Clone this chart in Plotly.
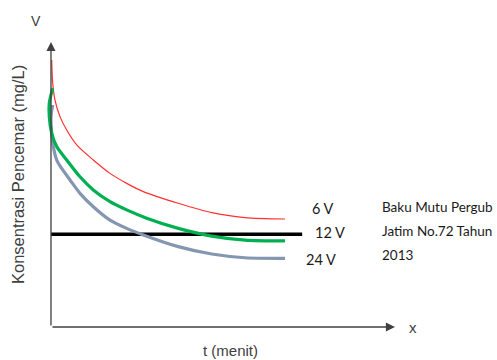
import plotly.graph_objects as go

# t (menit) and Konsentrasi values
t_6v = [0.018, 0.044, 0.103, 0.231, 0.403, 0.659, 1.085, 1.513, 1.941, 2.367, 3.264, 4.121, 4.974, 6.0]
c_6v = [9.37, 8.56, 7.96, 7.38, 6.91, 6.39, 5.86, 5.39, 5.04, 4.75, 4.34, 4.01, 3.84, 3.79]

t_12v = [0.044, -0.044, -0.044, 0.018, 0.146, 0.403, 0.744, 1.085, 1.513, 1.941, 2.454, 3.264, 4.121, 4.974, 6.0]
c_12v = [8.38, 7.85, 7.38, 6.80, 6.33, 5.86, 5.27, 4.81, 4.40, 4.11, 3.82, 3.46, 3.19, 3.05, 3.02]

t_24v = [0.044, 0.0, 0.018, 0.059, 0.146, 0.231, 0.487, 0.744, 1.085, 1.513, 1.941, 2.367, 3.264, 4.121, 4.974, 6.0]
c_24v = [7.79, 7.38, 6.80, 6.33, 5.86, 5.65, 5.16, 4.69, 4.22, 3.75, 3.46, 3.23, 2.82, 2.56, 2.43, 2.41]

t_baku = [0.0, 6.44]
c_baku = [3.25, 3.25]

series_labels = ["6 V", "12 V", "24 V"]
baku_lines = ["Baku Mutu Pergub", "Jatim No.72 Tahun", "2013"]

fig = go.Figure()
fig.add_trace(go.Scatter(x=t_baku, y=c_baku, mode="lines",
                         line=dict(color="#000000", width=3.5)))
fig.add_trace(go.Scatter(x=t_6v, y=c_6v, mode="lines", line_shape="spline",
                         line=dict(color="#FF3030", width=1.2, smoothing=0.8)))
fig.add_trace(go.Scatter(x=t_24v, y=c_24v, mode="lines", line_shape="spline",
                         line=dict(color="#8496B0", width=3.2, smoothing=0.8)))
fig.add_trace(go.Scatter(x=t_12v, y=c_12v, mode="lines", line_shape="spline",
                         line=dict(color="#00B050", width=3.2, smoothing=0.8)))

ann = []
# axes with arrows
ann.append(dict(x=0, y=10, ax=0, ay=0, xref="x", yref="y", axref="x", ayref="y",
                text="", showarrow=True, arrowhead=2, arrowsize=1.4, arrowwidth=1.3,
                arrowcolor="#404040"))
ann.append(dict(x=8.82, y=0, ax=0, ay=0, xref="x", yref="y", axref="x", ayref="y",
                text="", showarrow=True, arrowhead=2, arrowsize=1.4, arrowwidth=1.3,
                arrowcolor="#404040"))

def txt(px, py, s, size=13, family="Liberation Sans, Arial", color="#404040",
        xanchor="left", angle=0):
    return dict(x=(px - 41) / 361, y=(333 - py) / 305, xref="paper", yref="paper",
                text=s, showarrow=False, xanchor=xanchor, yanchor="middle",
                textangle=angle, font=dict(size=size, family=family, color=color))

ann.append(txt(36, 21, "V", size=14, xanchor="center"))
ann.append(txt(413, 327, "x", size=15, xanchor="center"))
ann.append(txt(230, 350, "t (menit)", size=15, xanchor="center"))
ann.append(txt(18, 175, "Konsentrasi Pencemar (mg/L)", size=16.5, xanchor="center", angle=-90))

lab_pos = [(310, 208), (313, 232), (304, 259)]
for (px, py), s in zip(lab_pos, series_labels):
    ann.append(txt(px, py, s, size=14.5, family="Lato", color="#1a1a1a"))
for py, s in zip([207, 231, 255], baku_lines):
    ann.append(txt(380, py, s, size=13.5, family="Lato", color="#1a1a1a"))

fig.update_layout(
    width=497, height=360,
    margin=dict(l=41, r=95, t=28, b=27),
    paper_bgcolor="white", plot_bgcolor="white",
    showlegend=False,
    xaxis=dict(range=[-0.256, 9.0], showgrid=False, zeroline=False,
               showticklabels=False, showline=False, ticks=""),
    yaxis=dict(range=[-0.21, 10.49], showgrid=False, zeroline=False,
               showticklabels=False, showline=False, ticks=""),
    annotations=ann,
)

fig.write_html("out.html", config={"displayModeBar": False},
               post_script="document.body.style.margin='0';document.body.style.overflow='hidden';")
